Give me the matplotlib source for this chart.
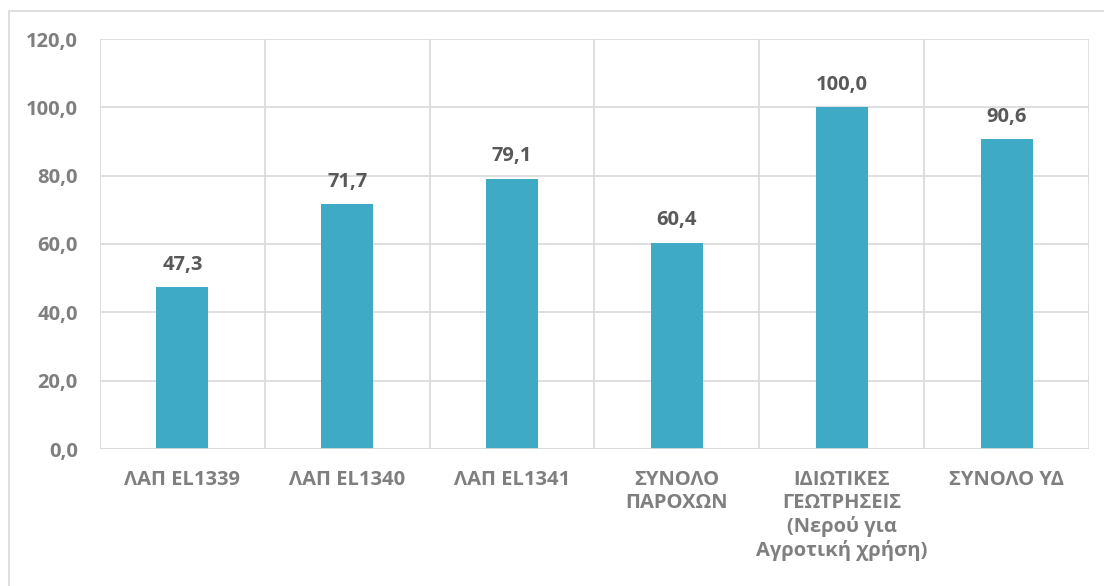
import matplotlib.pyplot as plt
from matplotlib.patches import Rectangle
from matplotlib.ticker import FuncFormatter

plt.rcParams['font.family'] = ['Open Sans', 'DejaVu Sans']

categories = ['ΛΑΠ EL1339', 'ΛΑΠ EL1340', 'ΛΑΠ EL1341', 'ΣΥΝΟΛΟ\nΠΑΡΟΧΩΝ',
              'ΙΔΙΩΤΙΚΕΣ\nΓΕΩΤΡΗΣΕΙΣ\n(Νερού για\nΑγροτική χρήση)', 'ΣΥΝΟΛΟ ΥΔ']
values = [47.3, 71.7, 79.1, 60.4, 100.0, 90.6]
yticks = [0, 20, 40, 60, 80, 100, 120]

bar_color = '#3eaac6'
grid_color = '#d9d9d9'
tick_color = '#7f7f7f'
label_color = '#595959'

fig = plt.figure(figsize=(11.04, 5.86), dpi=100)
# light frame around the chart area
fig.patches.append(Rectangle((9 / 1104, -0.1), 1.2, 1 - 11 / 586 + 0.1,
                             transform=fig.transFigure, fill=False,
                             edgecolor=grid_color, linewidth=1.2))

ax = fig.add_axes([100 / 1104, 137 / 586, 989 / 1104, 410 / 586])
x = list(range(len(categories)))
bars = ax.bar(x, values, width=0.315, color=bar_color, zorder=3)

ax.set_xlim(-0.5, len(categories) - 0.5)
ax.set_ylim(0, 120)
ax.set_yticks(yticks)
ax.yaxis.set_major_formatter(FuncFormatter(lambda v, p: f'{v:.1f}'.replace('.', ',')))
ax.set_xticks(x)
ax.set_xticklabels(categories, linespacing=1.2, va='top')

# horizontal grid + category separators
ax.grid(axis='y', color=grid_color, linewidth=1.2, zorder=0)
for b in range(len(categories) + 1):
    ax.axvline(b - 0.5, color=grid_color, linewidth=1.2, zorder=0)

for s in ax.spines.values():
    s.set_visible(False)
ax.axhline(0, color=grid_color, linewidth=2, zorder=4)

ax.tick_params(axis='both', length=0, labelcolor=tick_color, labelsize=14.5)
ax.tick_params(axis='y', pad=16)
ax.tick_params(axis='x', pad=15)
for t in ax.get_xticklabels() + ax.get_yticklabels():
    t.set_fontweight('bold')

for xi, v in zip(x, values):
    ax.annotate(f'{v:.1f}'.replace('.', ','), (xi, v), xytext=(0, 9),
                textcoords='offset points', ha='center', va='bottom',
                fontsize=14.5, fontweight='bold', color=label_color)

fig.savefig('out.png', dpi=100)
